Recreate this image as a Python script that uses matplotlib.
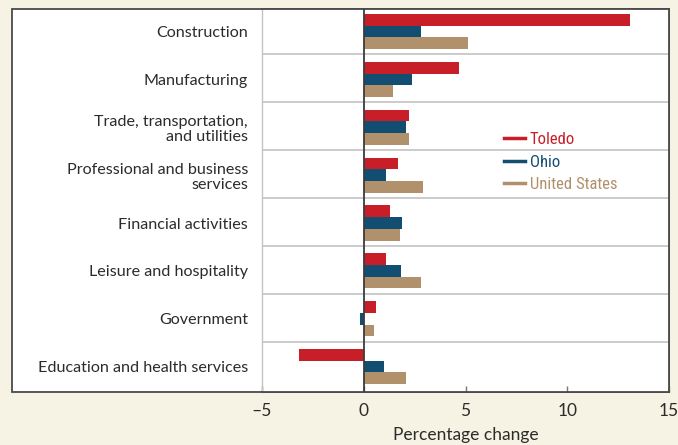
import matplotlib
matplotlib.use("Agg")
import matplotlib.pyplot as plt
from matplotlib.patches import Rectangle
from matplotlib.lines import Line2D
import numpy as np

# Datos (cambio porcentual)
categories = [
    "Construction",
    "Manufacturing",
    "Trade, transportation,\nand utilities",
    "Professional and business\nservices",
    "Financial activities",
    "Leisure and hospitality",
    "Government",
    "Education and health services",
]
toledo = [13.1, 4.7, 2.2, 1.7, 1.3, 1.1, 0.6, -3.2]
ohio = [2.8, 2.35, 2.1, 1.1, 1.9, 1.85, -0.2, 1.0]
united_states = [5.1, 1.45, 2.2, 2.9, 1.8, 2.8, 0.5, 2.1]
series_names = ["Toledo", "Ohio", "United States"]
xticks = [-5, 0, 5, 10, 15]

colors = ["#C81E28", "#114E72", "#B1906C"]
bg = "#F6F2E4"
W, H = 678, 445

plt.rcParams["font.family"] = ["Lato", "DejaVu Sans"]

fig = plt.figure(figsize=(W / 100, H / 100), dpi=100, facecolor=bg)

# Panel blanco con borde (incluye la zona de etiquetas)
box_l, box_r, box_t, box_b = 12, 669, 9, 392
panel = Rectangle((box_l / W, 1 - box_b / H), (box_r - box_l) / W, (box_b - box_t) / H,
                  transform=fig.transFigure, facecolor="white", edgecolor="#4a4a4a",
                  lw=1.3, zorder=-1)
fig.patches.append(panel)

ax = fig.add_axes([262 / W, 1 - box_b / H, (box_r - 262) / W, (box_b - box_t) / H])
ax.set_facecolor("white")

y = np.arange(len(categories))
h = 0.245
for k, vals in enumerate([toledo, ohio, united_states]):
    ax.barh(y + (k - 1) * h, vals, height=h, color=colors[k], zorder=2)

# Separadores entre categorías
for i in range(len(categories) - 1):
    ax.axhline(i + 0.48, color="#c2c2c2", lw=1.2, zorder=1)
ax.axvline(0, color="#3c3c3c", lw=1.3, zorder=3)

ax.set_xlim(-5, 15)
ax.set_ylim(len(categories) - 0.47, -0.47)

ax.set_yticks(y)
ax.set_yticklabels(categories, fontsize=11.6, color="#2b2b2b", linespacing=1.1)
ax.tick_params(axis="y", length=0, pad=10)

ax.set_xticks(xticks)
ax.set_xticklabels([str(t).replace("-", "\u2013") for t in xticks], fontsize=12.5, color="#2b2b2b")
ax.tick_params(axis="x", direction="in", length=4, width=1, color="#777777", pad=8)
ax.set_xlabel("Percentage change", fontsize=12.5, color="#2b2b2b", labelpad=6)

for side in ["top", "right", "bottom"]:
    ax.spines[side].set_color("#4a4a4a")
    ax.spines[side].set_linewidth(1.3)
ax.spines["left"].set_color("#c4c4c4")
ax.spines["left"].set_linewidth(1.0)

handles = [Line2D([0], [0], color=c, lw=2.5) for c in colors]
leg = ax.legend(handles, series_names, loc="upper left", bbox_to_anchor=(0.594, 0.678),
                frameon=False, handlelength=1.25, handletextpad=0.3,
                labelspacing=0.45, borderpad=0, borderaxespad=0,
                prop={"family": ["Liberation Sans Narrow", "Roboto Condensed",
                                 "Open Sans Condensed", "Lato"], "size": 12})
for t, c in zip(leg.get_texts(), colors):
    t.set_color(c)

fig.savefig("out.png", dpi=100, facecolor=bg)
